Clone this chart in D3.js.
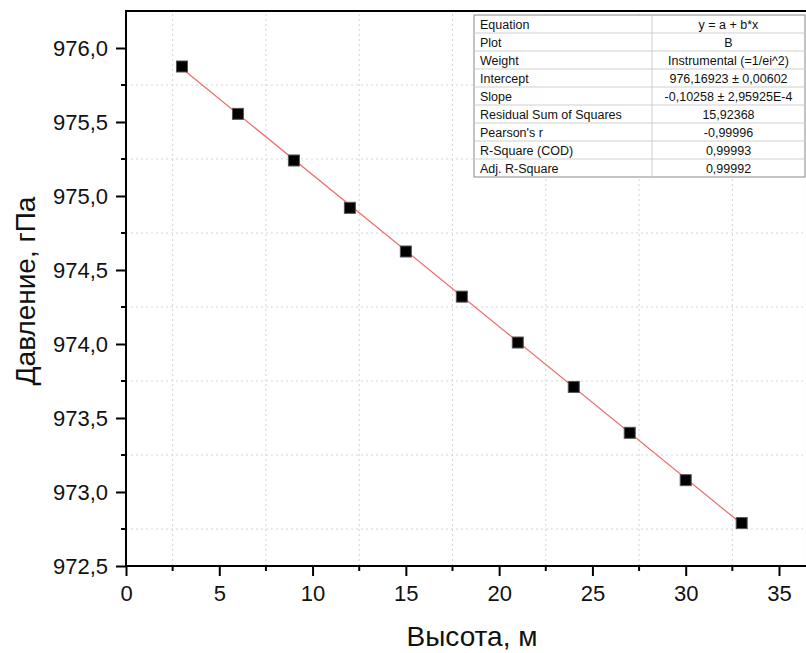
<!DOCTYPE html>
<html>
<head>
<meta charset="utf-8">
<script src="https://cdn.jsdelivr.net/npm/d3@7"></script>
<style>
  body { margin: 0; background: #fff; }
  svg { display: block; font-family: "Liberation Sans", Arial, sans-serif; }
</style>
</head>
<body>
<div id="chart"></div>
<script>
// measured heights and pressures
var heights = [3, 6, 9, 12, 15, 18, 21, 24, 27, 30, 33];
var pressures = [975.875, 975.555, 975.24, 974.92, 974.625, 974.32, 974.01, 973.71, 973.40, 973.08, 972.79];

// fit result (from the table)
var intercept = 976.16923;
var slope = -0.10258;

var xTicks = [0, 5, 10, 15, 20, 25, 30, 35];
var yTicks = [972.5, 973.0, 973.5, 974.0, 974.5, 975.0, 975.5, 976.0];

var tableLabels = ["Equation", "Plot", "Weight", "Intercept", "Slope",
    "Residual Sum of Squares", "Pearson's r", "R-Square (COD)", "Adj. R-Square"];
var tableValues = ["y = a + b*x", "B", "Instrumental (=1/ei^2)", "976,16923 \u00b1 0,00602",
    "-0,10258 \u00b1 2,95925E-4", "15,92368", "-0,99996", "0,99993", "0,99992"];

var width = 806, height = 653;
var margin = {top: 11, left: 126, bottom: 87};

var svg = d3.select("#chart").append("svg")
    .attr("width", width)
    .attr("height", height);

var x = d3.scaleLinear()
    .domain([0, 36.5])
    .range([margin.left, margin.left + 36.5 * 18.657]);

var y = d3.scaleLinear()
    .domain([972.5, 976.25])
    .range([height - margin.bottom, margin.top]);

var fmt = function(v){ return d3.format(".1f")(v).replace(".", ","); };

var xMinor = d3.range(2.5, 36.5, 5);
var yMinor = d3.range(972.75, 976.25, 0.5);

// grid (on minor positions, dotted)
var grid = svg.append("g");
grid.selectAll(".gx").data(xMinor).enter().append("line")
    .attr("x1", function(d){ return x(d); })
    .attr("x2", function(d){ return x(d); })
    .attr("y1", y(972.5))
    .attr("y2", y(976.25))
    .attr("stroke", "#d4d4d4")
    .attr("stroke-dasharray", "2,3");
grid.selectAll(".gy").data(yMinor).enter().append("line")
    .attr("x1", x(0))
    .attr("x2", x(36.5))
    .attr("y1", function(d){ return y(d); })
    .attr("y2", function(d){ return y(d); })
    .attr("stroke", "#d4d4d4")
    .attr("stroke-dasharray", "2,3");

// frame
svg.append("rect")
    .attr("x", x(0))
    .attr("y", y(976.25))
    .attr("width", x(36.5) - x(0))
    .attr("height", y(972.5) - y(976.25))
    .attr("fill", "none")
    .attr("stroke", "#000")
    .attr("stroke-width", 2);

// x axis
var xAxis = svg.append("g")
    .attr("transform", "translate(0," + y(972.5) + ")")
    .call(d3.axisBottom(x).tickValues(xTicks).tickSize(10).tickPadding(9).tickFormat(d3.format("d")));
xAxis.append("g").selectAll("line").data(xMinor).enter().append("line")
    .attr("x1", function(d){ return x(d); })
    .attr("x2", function(d){ return x(d); })
    .attr("y2", 5)
    .attr("stroke", "#000")
    .attr("stroke-width", 2);

// y axis
var yAxis = svg.append("g")
    .attr("transform", "translate(" + x(0) + ",0)")
    .call(d3.axisLeft(y).tickValues(yTicks).tickSize(10).tickPadding(8).tickFormat(fmt));
yAxis.append("g").selectAll("line").data(yMinor).enter().append("line")
    .attr("y1", function(d){ return y(d); })
    .attr("y2", function(d){ return y(d); })
    .attr("x2", -5)
    .attr("stroke", "#000")
    .attr("stroke-width", 2);

svg.selectAll(".domain").remove();
svg.selectAll(".tick line").attr("stroke-width", 2);
svg.selectAll(".tick text")
    .style("font-size", "22px")
    .attr("fill", "#111");

// fit line
svg.append("line")
    .attr("x1", x(d3.min(heights)))
    .attr("y1", y(intercept + slope * d3.min(heights)))
    .attr("x2", x(d3.max(heights)))
    .attr("y2", y(intercept + slope * d3.max(heights)))
    .attr("stroke", "#ee6a6a")
    .attr("stroke-width", 1.2);

// points
var ms = 11;
svg.append("g").selectAll("rect")
    .data(heights)
    .enter().append("rect")
    .attr("x", function(d){ return x(d) - ms / 2; })
    .attr("y", function(d, i){ return y(pressures[i]) - ms / 2; })
    .attr("width", ms)
    .attr("height", ms)
    .attr("fill", "#000")
    .attr("stroke", "#555")
    .attr("stroke-width", 1);

// axis titles
svg.append("text")
    .attr("x", 472)
    .attr("y", 646)
    .attr("text-anchor", "middle")
    .style("font-size", "28px")
    .attr("fill", "#111")
    .text("Высота, м");

svg.append("text")
    .attr("transform", "translate(35,291) rotate(-90)")
    .attr("text-anchor", "middle")
    .style("font-size", "28px")
    .attr("fill", "#111")
    .text("Давление, гПа");

// fit table
var tx0 = 474, tx1 = 652, tx2 = 805, ty0 = 15, rowH = 18;
var table = svg.append("g");
table.append("rect")
    .attr("x", tx0).attr("y", ty0)
    .attr("width", tx2 - tx0).attr("height", rowH * tableLabels.length)
    .attr("fill", "#fff")
    .attr("stroke", "#888")
    .attr("stroke-width", 1);
table.selectAll(".row").data(tableLabels.slice(1)).enter().append("line")
    .attr("x1", tx0).attr("x2", tx2)
    .attr("y1", function(d, i){ return ty0 + rowH * (i + 1); })
    .attr("y2", function(d, i){ return ty0 + rowH * (i + 1); })
    .attr("stroke", "#cfcfcf");
table.append("line")
    .attr("x1", tx1).attr("x2", tx1)
    .attr("y1", ty0).attr("y2", ty0 + rowH * tableLabels.length)
    .attr("stroke", "#cfcfcf");
table.selectAll(".lab").data(tableLabels).enter().append("text")
    .attr("x", tx0 + 6)
    .attr("y", function(d, i){ return ty0 + rowH * i + 13.5; })
    .style("font-size", "12.5px")
    .attr("fill", "#111")
    .text(function(d){ return d; });
table.selectAll(".val").data(tableValues).enter().append("text")
    .attr("x", (tx1 + tx2) / 2)
    .attr("y", function(d, i){ return ty0 + rowH * i + 13.5; })
    .attr("text-anchor", "middle")
    .style("font-size", "12.5px")
    .attr("fill", "#111")
    .text(function(d){ return d; });
</script>
</body>
</html>
